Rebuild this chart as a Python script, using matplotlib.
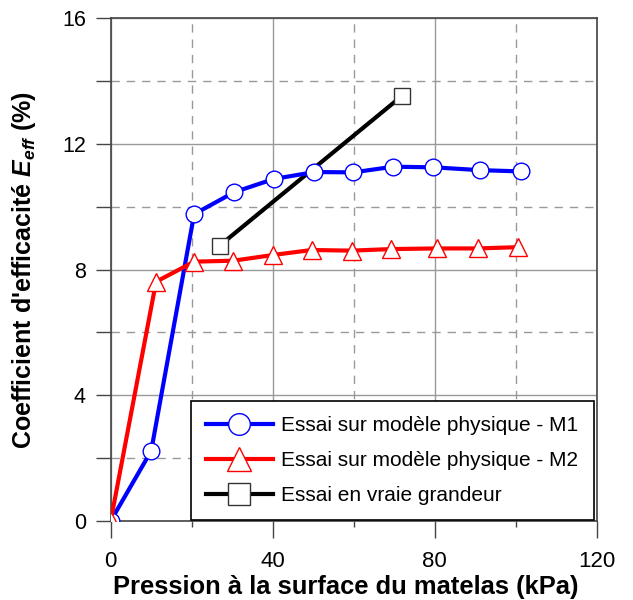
import matplotlib
matplotlib.use("Agg")
import matplotlib.pyplot as plt
from matplotlib.ticker import MultipleLocator

plt.rcParams['font.family'] = ['Liberation Sans', 'DejaVu Sans']
plt.rcParams['mathtext.fontset'] = 'custom'
plt.rcParams['mathtext.it'] = 'Liberation Sans:italic:bold'
plt.rcParams['mathtext.rm'] = 'Liberation Sans:bold'

# Data
m1_x = [0, 10, 20.6, 30.5, 40.3, 50.3, 59.9, 69.8, 79.7, 91.2, 101.3]
m1_y = [0, 2.23, 9.76, 10.46, 10.88, 11.10, 11.09, 11.27, 11.25, 11.16, 11.12]
m2_x = [0, 11.2, 20.6, 30.3, 40.0, 49.6, 59.5, 69.2, 80.5, 90.6, 100.5]
m2_y = [0, 7.61, 8.25, 8.28, 8.46, 8.62, 8.60, 8.65, 8.67, 8.67, 8.71]
vg_x = [26.9, 71.9]
vg_y = [8.76, 13.52]

labels = ["Essai sur modèle physique - M1",
          "Essai sur modèle physique - M2",
          "Essai en vraie grandeur"]

fig = plt.figure(figsize=(6.33, 6.0), dpi=100)
ax = fig.add_axes([110.7/633, 1 - 521/600, (596.7-110.7)/633, (521-18)/600])

ax.plot(m1_x, m1_y, color='#0000ff', lw=3, marker='o', ms=12,
        mfc='white', mec='#0000ff', mew=1, label=labels[0], zorder=4)
ax.plot(m2_x, m2_y, color='#ff0000', lw=3, marker='^', ms=13,
        mfc='white', mec='#ff0000', mew=1, label=labels[1], zorder=5)
ax.plot(vg_x, vg_y, color='black', lw=3, marker='s', ms=12,
        mfc='white', mec='#333333', mew=1, label=labels[2], zorder=3)

ax.set_xlim(0, 120)
ax.set_ylim(0, 16)
ax.xaxis.set_major_locator(MultipleLocator(40))
ax.xaxis.set_minor_locator(MultipleLocator(20))
ax.yaxis.set_major_locator(MultipleLocator(4))
ax.yaxis.set_minor_locator(MultipleLocator(2))
ax.grid(which='major', color='#999999', lw=1, ls='-')
ax.grid(which='minor', color='#999999', lw=1, ls=(0, (6, 5)))
ax.set_axisbelow(True)
ax.tick_params(axis='x', which='major', direction='out', length=12.2, width=1,
               color='#444444', labelsize=16, pad=9.5)
ax.tick_params(axis='x', which='minor', direction='out', length=4.3, width=1,
               color='#444444')
ax.tick_params(axis='y', which='both', direction='out', length=10.8, width=1,
               color='#444444', labelsize=15.5, pad=7)
for s in ax.spines.values():
    s.set_color('#444444')
    s.set_linewidth(1.2)

ax.set_xlabel("Pression à la surface du matelas (kPa)", fontsize=18.4,
              fontweight='bold', labelpad=2)
ax.xaxis.label.set_x(0.483)
ax.set_ylabel(r"Coefficient d'efficacité $E_{eff}$ (%)", fontsize=18,
              fontweight='bold', labelpad=17)

leg = ax.legend(loc='lower right', bbox_to_anchor=(0.9935, 0.002),
                fontsize=15, frameon=True, fancybox=False, edgecolor='black',
                framealpha=1, handlelength=3.2, borderpad=0.72,
                labelspacing=0.76, handletextpad=0.42, markerscale=1.3,
                borderaxespad=0.0)
leg.get_frame().set_linewidth(1.2)

fig.savefig("out.png", dpi=100)
